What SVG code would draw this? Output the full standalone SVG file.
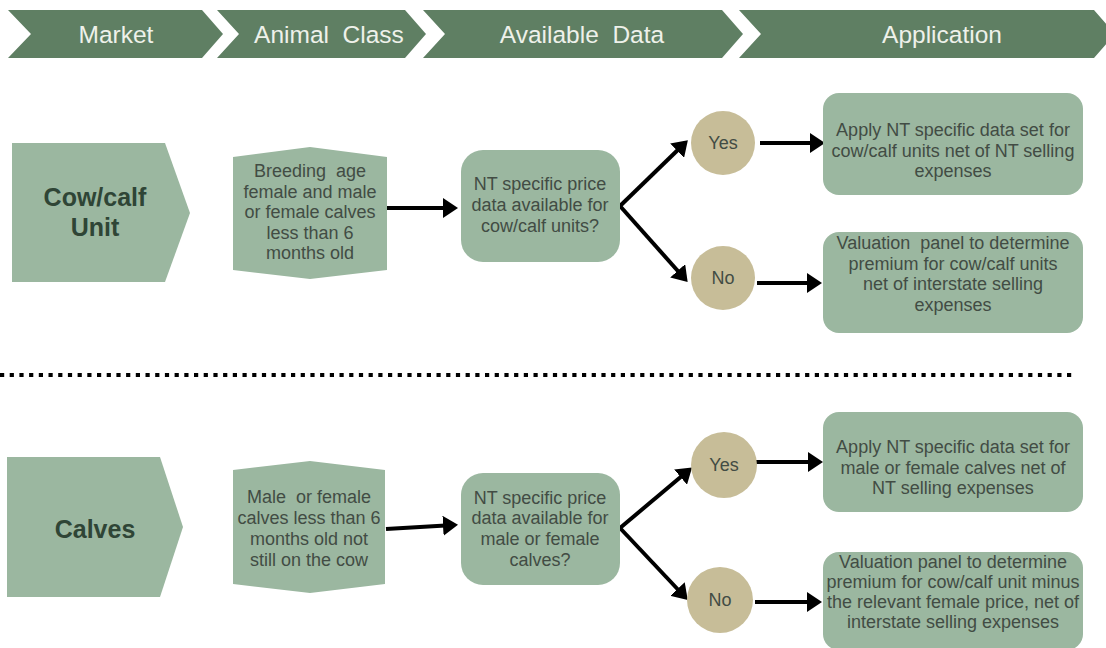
<svg xmlns="http://www.w3.org/2000/svg" width="1106" height="648" viewBox="0 0 1106 648">
  <defs>
    <marker id="arrowhead" markerUnits="userSpaceOnUse" markerWidth="15" markerHeight="20" refX="11" refY="10" orient="auto">
      <path d="M0,0 L15,10 L0,20 Z" fill="#000"/>
    </marker>
    <style>
      .band { fill: #5f7f63; }
      .band-text { font-family: "Liberation Sans", Arial, sans-serif; font-size: 24.5px; fill: #eef1ea; text-anchor: middle; }
      .node { fill: #9bb7a0; }
      .choice { fill: #c7bd98; }
      .label { font-family: "Liberation Sans", Arial, sans-serif; font-size: 18px; fill: #424c44; text-anchor: middle; }
      .title { font-family: "Liberation Sans", Arial, sans-serif; font-size: 25px; font-weight: bold; fill: #2f4536; text-anchor: middle; }
      .flow { stroke: #000; stroke-width: 4; fill: none; marker-end: url(#arrowhead); }
      .divider { stroke: #000; stroke-width: 4; stroke-dasharray: 4.2 5.5; fill: none; }
    </style>
  </defs>

  <rect width="1106" height="648" fill="#fff"/>

  <!-- header chevrons -->
  <g id="header">
    <g id="hdr-market">
      <polygon class="band" points="8,10 202,10 223,34 202,58 8,58 31,34"/>
      <text class="band-text" x="116" y="43">Market</text>
    </g>
    <g id="hdr-animal-class">
      <polygon class="band" points="217,10 405,10 426,34 405,58 217,58 239,34"/>
      <text class="band-text" x="329" y="43" xml:space="preserve">Animal  Class</text>
    </g>
    <g id="hdr-available-data">
      <polygon class="band" points="423,10 722,10 743,34 722,58 423,58 445,34"/>
      <text class="band-text" x="582" y="43" xml:space="preserve">Available  Data</text>
    </g>
    <g id="hdr-application">
      <polygon class="band" points="739,10 1094,10 1115,34 1094,58 739,58 761,34"/>
      <text class="band-text" x="942" y="43">Application</text>
    </g>
  </g>

  <!-- section divider -->
  <line class="divider" x1="0" y1="375" x2="1074" y2="375"/>

  <!-- connectors -->
  <g id="connectors">
    <line class="flow" x1="386" y1="208" x2="454" y2="208"/>
    <line class="flow" x1="620" y1="206" x2="685" y2="143"/>
    <line class="flow" x1="620" y1="206" x2="685" y2="279"/>
    <line class="flow" x1="760" y1="143" x2="821" y2="143"/>
    <line class="flow" x1="757" y1="283" x2="818" y2="283"/>

    <line class="flow" x1="386" y1="529" x2="454" y2="525"/>
    <line class="flow" x1="620" y1="528" x2="689" y2="470"/>
    <line class="flow" x1="620" y1="528" x2="685" y2="597"/>
    <line class="flow" x1="755" y1="462" x2="819" y2="462"/>
    <line class="flow" x1="755" y1="602" x2="818" y2="602"/>
  </g>

  <!-- cow/calf unit row -->
  <g id="market-cowcalf">
    <polygon class="node" points="12,143 165,143 190,213 165,282 12,282"/>
    <text class="title" x="95" y="206">Cow/calf</text>
    <text class="title" x="95" y="236">Unit</text>
  </g>
  <g id="class-cowcalf">
    <polygon class="node" points="233,157 310,147 387,157 387,270 310,279 233,270"/>
    <text class="label" x="310" y="177" xml:space="preserve">Breeding  age</text>
    <text class="label" x="310" y="197.5">female and male</text>
    <text class="label" x="310" y="218">or female calves</text>
    <text class="label" x="310" y="238.5">less than 6</text>
    <text class="label" x="310" y="259">months old</text>
  </g>
  <g id="data-cowcalf">
    <rect class="node" x="461" y="150" width="159" height="112" rx="22"/>
    <text class="label" x="540" y="190">NT specific price</text>
    <text class="label" x="540" y="211">data available for</text>
    <text class="label" x="540" y="232">cow/calf units?</text>
  </g>
  <g id="yes-cowcalf">
    <circle class="choice" cx="723" cy="143" r="32"/>
    <text class="label" x="723" y="149">Yes</text>
  </g>
  <g id="no-cowcalf">
    <circle class="choice" cx="723" cy="278" r="32"/>
    <text class="label" x="723" y="284">No</text>
  </g>
  <g id="apply-cowcalf">
    <rect class="node" x="823" y="93" width="260" height="102" rx="16"/>
    <text class="label" x="953" y="136">Apply NT specific data set for</text>
    <text class="label" x="953" y="156.5">cow/calf units net of NT selling</text>
    <text class="label" x="953" y="177">expenses</text>
  </g>
  <g id="panel-cowcalf">
    <rect class="node" x="823" y="232" width="260" height="101" rx="16"/>
    <text class="label" x="953" y="249" xml:space="preserve">Valuation  panel to determine</text>
    <text class="label" x="953" y="269.5">premium for cow/calf units</text>
    <text class="label" x="953" y="290">net of interstate selling</text>
    <text class="label" x="953" y="310.5">expenses</text>
  </g>

  <!-- calves row -->
  <g id="market-calves">
    <polygon class="node" points="7,457 160,457 183,527 160,597 7,597"/>
    <text class="title" x="95" y="538">Calves</text>
  </g>
  <g id="class-calves">
    <polygon class="node" points="233,470 310,461 385,470 385,584 310,593 233,584"/>
    <text class="label" x="309" y="503" xml:space="preserve">Male  or female</text>
    <text class="label" x="309" y="524">calves less than 6</text>
    <text class="label" x="309" y="545">months old not</text>
    <text class="label" x="309" y="566">still on the cow</text>
  </g>
  <g id="data-calves">
    <rect class="node" x="461" y="473" width="159" height="112" rx="22"/>
    <text class="label" x="540" y="503.5">NT specific price</text>
    <text class="label" x="540" y="524">data available for</text>
    <text class="label" x="540" y="545">male or female</text>
    <text class="label" x="540" y="566">calves?</text>
  </g>
  <g id="yes-calves">
    <circle class="choice" cx="724" cy="465" r="33"/>
    <text class="label" x="724" y="471">Yes</text>
  </g>
  <g id="no-calves">
    <circle class="choice" cx="720" cy="600" r="33"/>
    <text class="label" x="720" y="606">No</text>
  </g>
  <g id="apply-calves">
    <rect class="node" x="823" y="412" width="260" height="100" rx="16"/>
    <text class="label" x="953" y="453">Apply NT specific data set for</text>
    <text class="label" x="953" y="473.5">male or female calves net of</text>
    <text class="label" x="953" y="494">NT selling expenses</text>
  </g>
  <g id="panel-calves">
    <rect class="node" x="823" y="552" width="260" height="98" rx="16"/>
    <text class="label" x="953" y="568">Valuation panel to determine</text>
    <text class="label" x="953" y="588">premium for cow/calf unit minus</text>
    <text class="label" x="953" y="608">the relevant female price, net of</text>
    <text class="label" x="953" y="628">interstate selling expenses</text>
  </g>
</svg>
